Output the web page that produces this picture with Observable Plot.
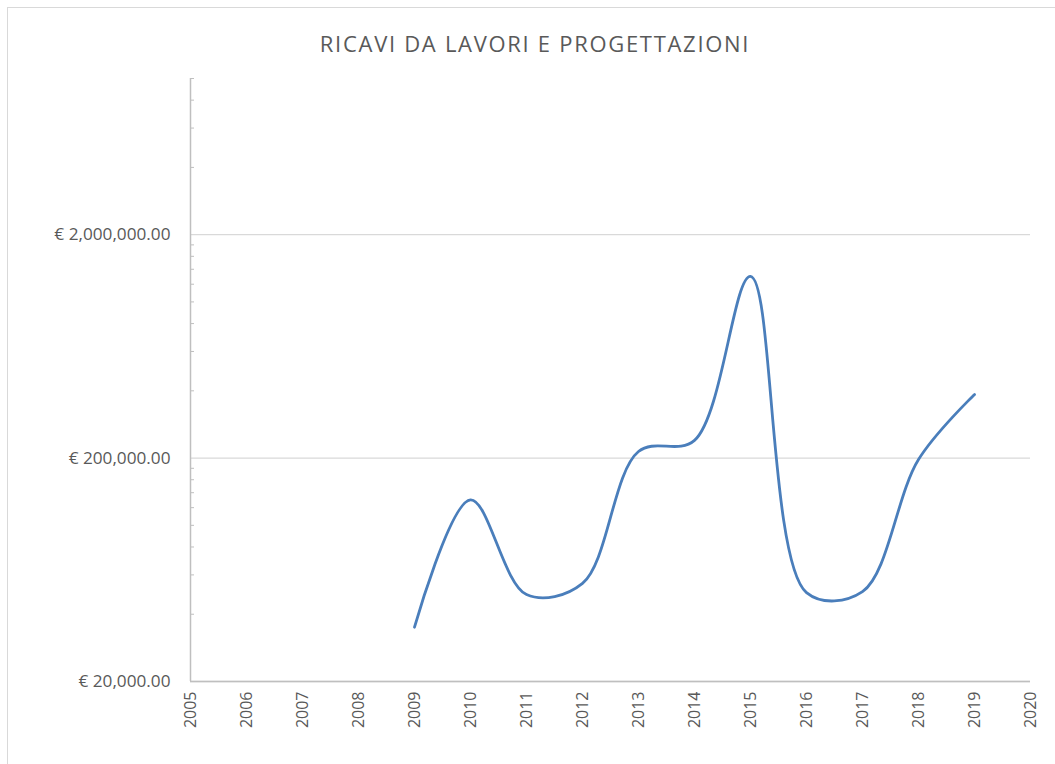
<!DOCTYPE html>
<html><head><meta charset="utf-8">
<script src="https://cdn.jsdelivr.net/npm/d3@7"></script>
<script src="https://cdn.jsdelivr.net/npm/@observablehq/plot@0.6"></script>
<style>
body{margin:0;background:#fff;font-family:"Open Sans",sans-serif;}
#wrap{position:relative;width:1055px;height:764px;overflow:hidden;}
#frame{position:absolute;left:7px;top:7px;width:1100px;height:800px;border:1.5px solid #d9d9d9;box-sizing:border-box;}
#title{position:absolute;top:28px;left:0;width:1070px;text-align:center;font-size:22px;letter-spacing:1.7px;color:#595959;font-family:"Open Sans",sans-serif;}
#chart{position:absolute;left:0;top:0;}
</style></head><body>
<div id="wrap"><div id="frame"></div><div id="chart"></div><div id="title">RICAVI DA LAVORI E PROGETTAZIONI</div></div>
<script>
const years = [2009, 2010, 2011, 2012, 2013, 2014, 2015, 2016, 2017, 2018, 2019];
const revenues = [35000, 130000, 49000, 55000, 214000, 240000, 1300000, 50000, 50500, 197000, 385000];
const xTicks = [2005, 2006, 2007, 2008, 2009, 2010, 2011, 2012, 2013, 2014, 2015, 2016, 2017, 2018, 2019, 2020];
const yMajor = [20000, 200000, 2000000];
const yMinor = [40000, 60000, 80000, 100000, 120000, 140000, 160000, 180000,
                400000, 600000, 800000, 1000000, 1200000, 1400000, 1600000, 1800000,
                4000000, 6000000, 8000000, 10000000];

const data = years.map((y, i) => ({year: y, value: revenues[i]}));
const fmt = d3.format(",.2f");

const chart = Plot.plot({
  width: 1055, height: 764,
  marginTop: 78, marginBottom: 83, marginLeft: 190, marginRight: 25,
  style: {fontFamily: '"Open Sans", sans-serif', fontSize: "16px", color: "#595959", background: "transparent"},
  x: {type: "linear", domain: [2005, 2020]},
  y: {type: "log", domain: [20000, 10000000]},
  marks: [
    Plot.gridY(yMajor, {stroke: "#d9d9d9", strokeOpacity: 1, strokeWidth: 1.3}),
    Plot.axisY(yMajor, {tickSize: 0, tickPadding: 20, tickFormat: d => "€ " + fmt(d), fill: "#595959", label: null}),
    Plot.axisY(yMinor, {tickSize: 4, dx: 4, tickFormat: () => "", stroke: "#bfbfbf", strokeOpacity: 1, label: null}),
    Plot.ruleX([2005], {stroke: "#bfbfbf", strokeWidth: 1.5}),
    Plot.ruleY([20000], {stroke: "#bfbfbf", strokeWidth: 1.5}),
    Plot.axisX(xTicks, {tickSize: 0, tickRotate: -90, tickPadding: 10, tickFormat: "d", fill: "#595959", label: null}),
    Plot.line(data, {x: "year", y: "value", stroke: "#4a7ebb", strokeWidth: 2.8, curve: "catmull-rom"})
  ]
});
chart.querySelectorAll("g[aria-label='y-axis tick label'] text").forEach(t => t.style.fontSize = "17.2px");
chart.querySelectorAll("g[aria-label='x-axis tick label'] text").forEach(t => t.style.fontSize = "16px");
document.getElementById("chart").appendChild(chart);
</script>
</body></html>
